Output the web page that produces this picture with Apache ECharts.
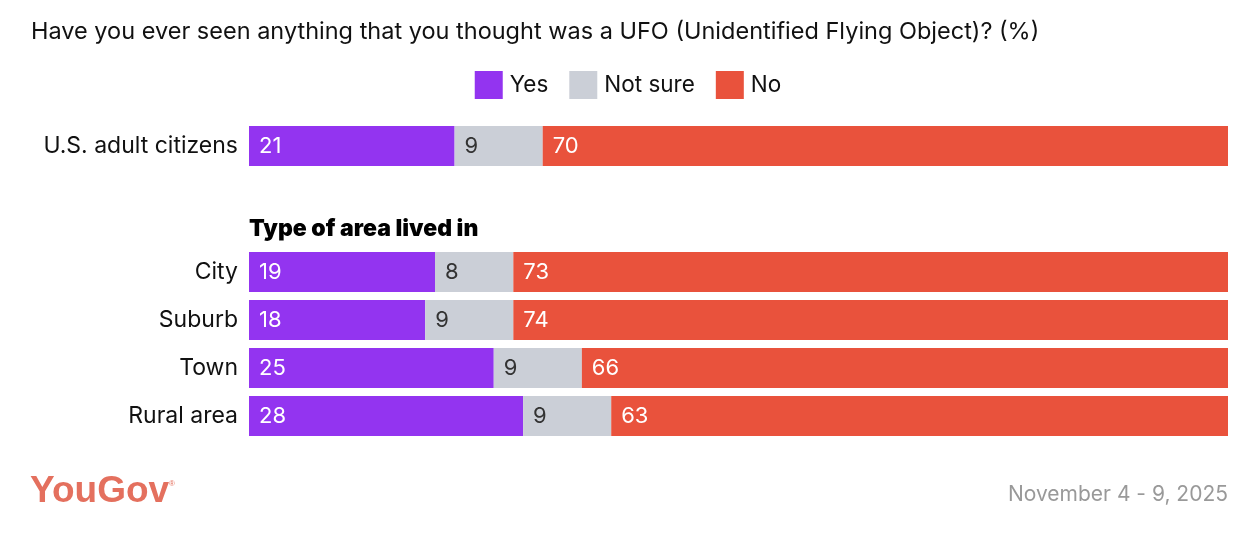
<!DOCTYPE html>
<html>
<head>
<meta charset="utf-8">
<script src="https://cdn.jsdelivr.net/npm/echarts@6/dist/echarts.min.js"></script>
<style>
  html, body { margin: 0; padding: 0; background: #fff; }
  #chart { width: 1256px; height: 538px; }
</style>
</head>
<body>
<div id="chart"></div>
<script>
const FONT = "Inter";

// data
const seriesNames = ["Yes", "Not sure", "No"];
const colors = ["#9334F0", "#CBCFD7", "#E9523C"];

const totalRow = ["U.S. adult citizens"];
const totalYes = [21];
const totalNotSure = [9];
const totalNo = [70];

const areaHeader = "Type of area lived in";
const areaRows = ["City", "Suburb", "Town", "Rural area"];
const areaYes = [19, 18, 25, 28];
const areaNotSure = [8, 9, 9, 9];
const areaNo = [73, 74, 66, 63];

const container = document.getElementById("chart");
let myChart = echarts.init(container);

function makeSeries(gridIdx, name, values, color, labelColor) {
  return {
    name: name,
    type: "bar",
    stack: "s" + gridIdx,
    xAxisIndex: gridIdx,
    yAxisIndex: gridIdx,
    barWidth: 40,
    itemStyle: { color: color },
    label: {
      show: true,
      position: "insideLeft",
      distance: 10,
      color: labelColor,
      fontFamily: FONT,
      fontSize: 22,
    },
    emphasis: { disabled: true },
    data: values,
  };
}

const xAxisBase = {
  type: "value",
  min: 0,
  max: 100,
  show: false,
};
const yAxisBase = {
  type: "category",
  inverse: true,
  axisLine: { show: false },
  axisTick: { show: false },
  splitLine: { show: false },
  axisLabel: { color: "#111", fontFamily: FONT, fontSize: 23, margin: 11 },
};

let option = {
  animation: false,
  backgroundColor: "#fff",
  title: {
    text: "Have you ever seen anything that you thought was a UFO (Unidentified Flying Object)? (%)",
    left: 26,
    top: 15,
    textStyle: { fontFamily: FONT, fontSize: 23.5, fontWeight: "normal", color: "#111" },
  },
  legend: {
    top: 66,
    left: "center",
    itemWidth: 28,
    itemHeight: 28,
    itemGap: 21,
    icon: "rect",
    selectedMode: false,
    textStyle: { fontFamily: FONT, fontSize: 22.5, color: "#111", padding: [0, 0, 0, 2] },
    data: seriesNames,
  },
  grid: [
    { left: 249, right: 28, top: 122, height: 48 },
    { left: 249, right: 28, top: 248, height: 192 },
  ],
  xAxis: [
    Object.assign({ gridIndex: 0 }, xAxisBase),
    Object.assign({ gridIndex: 1 }, xAxisBase),
  ],
  yAxis: [
    Object.assign({ gridIndex: 0, data: totalRow }, yAxisBase),
    Object.assign({ gridIndex: 1, data: areaRows }, yAxisBase),
  ],
  graphic: [
    {
      type: "text",
      left: 249,
      top: 218,
      style: { text: areaHeader, fontFamily: FONT, fontSize: 23, fontWeight: 900, fill: "#000" },
    },
    {
      type: "text",
      left: 30,
      top: 473,
      style: { text: "YouGov", fontFamily: "Liberation Sans", fontSize: 37, fontWeight: "bold", fill: "#E4705E" },
    },
    {
      type: "text",
      left: 169,
      top: 480,
      style: { text: "®", fontFamily: "Liberation Sans", fontSize: 8, fill: "#E4705E" },
    },
    {
      type: "text",
      right: 28,
      top: 484,
      style: { text: "November 4 - 9, 2025", fontFamily: FONT, fontSize: 21, fill: "#999" },
    },
  ],
  series: [
    makeSeries(0, "Yes", totalYes, colors[0], "#fff"),
    makeSeries(0, "Not sure", totalNotSure, colors[1], "#333"),
    makeSeries(0, "No", totalNo, colors[2], "#fff"),
    makeSeries(1, "Yes", areaYes, colors[0], "#fff"),
    makeSeries(1, "Not sure", areaNotSure, colors[1], "#333"),
    makeSeries(1, "No", areaNo, colors[2], "#fff"),
  ],
};

myChart.setOption(option);
window.addEventListener("resize", myChart.resize);
</script>
</body>
</html>
